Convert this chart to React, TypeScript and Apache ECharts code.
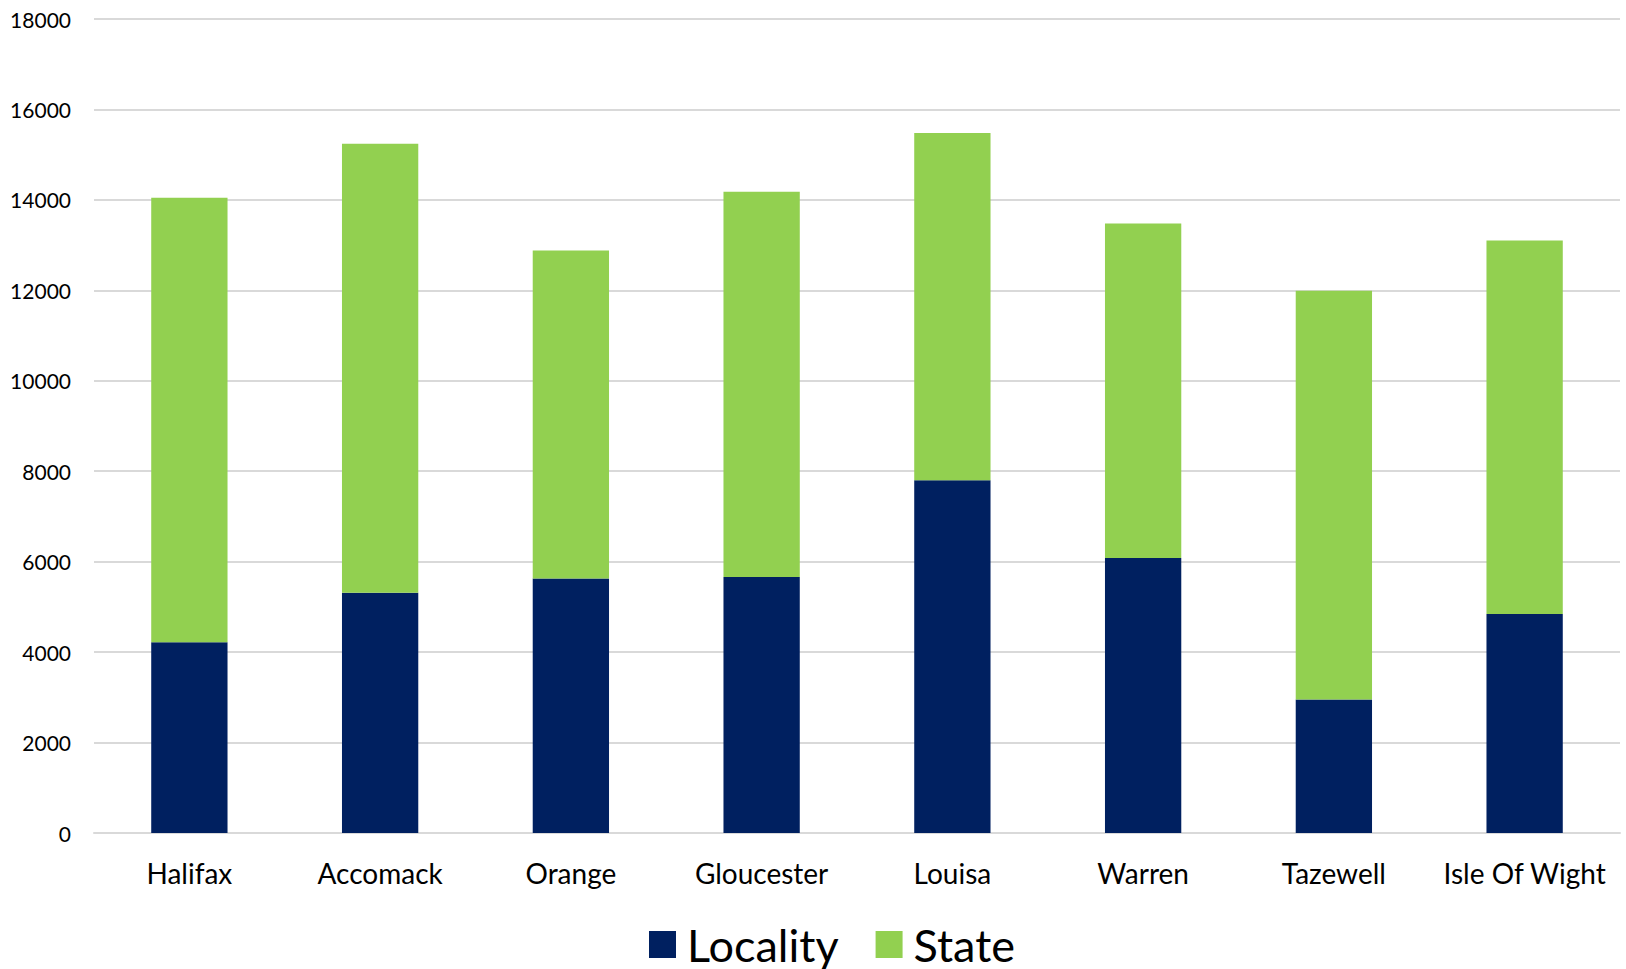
import React, { useEffect, useRef } from "react";
import * as echarts from "echarts";

const categories = ["Halifax", "Accomack", "Orange", "Gloucester", "Louisa", "Warren", "Tazewell", "Isle Of Wight"];
const localityValues = [4220, 5310, 5630, 5660, 7800, 6080, 2950, 4840];
const stateValues = [9830, 9930, 7250, 8520, 7680, 7400, 9040, 8260];
const yTicks = { min: 0, max: 18000, interval: 2000 };

const FONT = "Lato, 'Open Sans', sans-serif";

export default function App() {
  const ref = useRef<HTMLDivElement>(null);

  useEffect(() => {
    if (!ref.current) return;
    const chart = echarts.init(ref.current, undefined, { renderer: "svg" });
    chart.setOption({
      animation: false,
      backgroundColor: "#ffffff",
      grid: { left: 94, right: 6, top: 19, bottom: 136, containLabel: false },
      legend: {
        data: ["Locality", "State"],
        left: 644,
        top: 917,
        icon: "rect",
        itemWidth: 27,
        itemHeight: 27,
        itemGap: 37,
        textStyle: { fontFamily: FONT, fontSize: 45, color: "#000000", padding: [0, 0, 0, 6] },
      },
      xAxis: {
        type: "category",
        data: categories,
        axisTick: { show: false },
        axisLine: { show: true, lineStyle: { color: "#d9d9d9", width: 2 } },
        axisLabel: { interval: 0, fontFamily: FONT, fontSize: 28, color: "#000000", margin: 26 },
      },
      yAxis: {
        type: "value",
        min: yTicks.min,
        max: yTicks.max,
        interval: yTicks.interval,
        axisLine: { show: false },
        axisTick: { show: false },
        splitLine: { lineStyle: { color: "#d9d9d9", width: 2 } },
        axisLabel: {
          fontFamily: FONT,
          fontSize: 21,
          color: "#000000",
          margin: 23,
          formatter: (v: number) => String(v),
        },
      },
      series: [
        {
          name: "Locality",
          type: "bar",
          stack: "total",
          barWidth: "40%",
          data: localityValues,
          itemStyle: { color: "#002060" },
        },
        {
          name: "State",
          type: "bar",
          stack: "total",
          barWidth: "40%",
          data: stateValues,
          itemStyle: { color: "#92d050" },
        },
      ],
    });
    return () => chart.dispose();
  }, []);

  return (
    <div
      ref={ref}
      style={{ position: "fixed", left: 0, top: 0, width: 1626, height: 969 }}
    />
  );
}
